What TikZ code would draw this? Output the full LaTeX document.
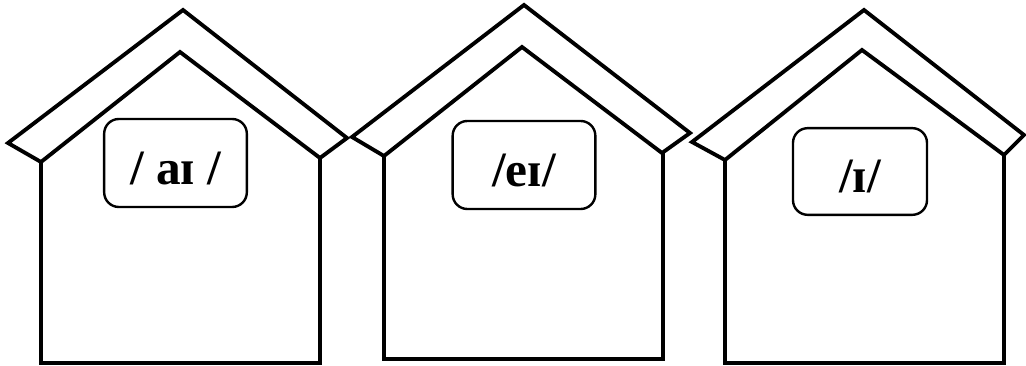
\documentclass[tikz,border=0pt]{standalone}
\usepackage{fontspec}
\setmainfont{Liberation Serif}
\usetikzlibrary{positioning}

\begin{document}
\begin{tikzpicture}[
    x=0.75pt, y=-0.75pt,
    house/.style={draw, line width=2.9pt, line join=miter},
    soundbox/.style={rectangle, draw, line width=1.8pt, rounded corners=11pt, minimum width=107pt, minimum height=66pt, inner sep=0pt, text height=32pt, text depth=0pt, font=\fontsize{37}{40}\selectfont\bfseries}
]
    \useasboundingbox (0,0) rectangle (1026,366);

    % First house
    \draw[house] (8,143) -- (183,10) -- (347,138) -- (320,158) -- (180,52) -- (41,162) -- cycle;
    \draw[house] (41,162) -- (41,363) -- (320,363) -- (320,158);

    % Second house
    \draw[house] (352,137) -- (524,5) -- (690,133) -- (662,153) -- (522,47) -- (384,156) -- cycle;
    \draw[house] (384,156) -- (384,359) -- (663,359) -- (663,153);

    % Third house
    \draw[house] (692,142) -- (864,10) -- (1024,135) -- (1004,155) -- (862,50) -- (725,160) -- cycle;
    \draw[house] (725,160) -- (725,363) -- (1004,363) -- (1004,155);

    % Sound labels
    \node[soundbox] (ai) at (175.5,163) {/ aɪ /};
    \node[soundbox] (ei) at (524,165) {/eɪ/};
    \node[soundbox, minimum width=100.5pt, minimum height=65pt] (i) at (860,171.5) {/ɪ/};
\end{tikzpicture}
\end{document}
